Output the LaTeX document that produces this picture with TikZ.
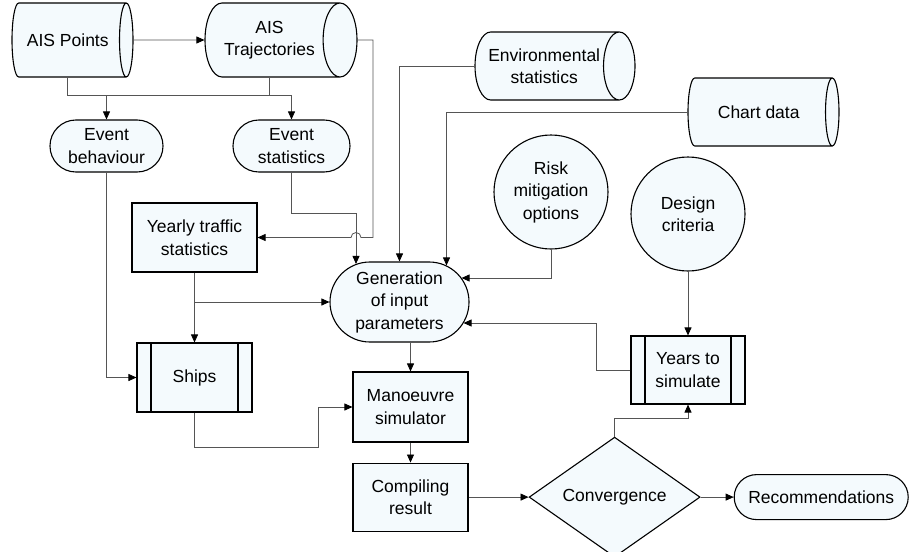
\documentclass[tikz,border=0pt]{standalone}
\usepackage{fontspec}
\setmainfont{Liberation Sans}
\usetikzlibrary{shapes.geometric, arrows.meta, positioning, calc}
\tikzset{>={Triangle[length=8pt,width=7pt]}}
\definecolor{boxfill}{RGB}{244,250,253}
\definecolor{linegray}{RGB}{85,85,85}

\begin{document}
\begin{tikzpicture}[
      x=1pt, y=-1pt,
      font=\fontsize{17.5}{22.5}\selectfont,
      base/.style={draw, fill=boxfill, line width=1.1pt, align=center, inner sep=2pt},
      datastore/.style={base, cylinder, aspect=0.8, minimum width=74pt, anchor=shape center},
      event/.style={base, rectangle, rounded corners=25.9pt, minimum width=113pt, minimum height=52pt},
      block/.style={base, rectangle, minimum width=115pt, minimum height=69pt},
      procbox/.style={block, path picture={
          \draw[line width=1.1pt] ([xshift=14pt]path picture bounding box.north west) -- ([xshift=14pt]path picture bounding box.south west);
          \draw[line width=1.1pt] ([xshift=-14pt]path picture bounding box.north east) -- ([xshift=-14pt]path picture bounding box.south east);}},
      round/.style={base, circle, minimum size=114pt},
      decision/.style={base, diamond, minimum width=171pt, minimum height=108pt, inner sep=0pt},
      arrow/.style={-{>[color=black]}, draw=linegray, line width=0.8pt},
      link/.style={draw=linegray, line width=0.8pt}
    ]
    \useasboundingbox (0,0) rectangle (909,551);

    % 1. AIS DATA
    \node[datastore, minimum height=121pt] (aispts) at (72.5,40) {AIS Points};
    \node[datastore, minimum height=152pt] (aistraj) at (281,40) {AIS\\Trajectories};
    \node[event] (evbehav) at (106.5,146) {Event\\behaviour};
    \node[event, minimum width=117pt] (evstats) at (291.5,146) {Event\\statistics};
    \node[block, minimum width=125pt] (yearly) at (194.5,237.5) {Yearly traffic\\statistics};

    % 2. OTHER INPUTS
    \node[datastore, minimum width=68pt, minimum height=160pt] (envstats) at (555,66) {Environmental\\statistics};
    \node[datastore, minimum width=68pt, minimum height=151pt] (chart) at (763.5,112) {Chart data};
    \node[round] (risk) at (551,192) {Risk\\mitigation\\options};
    \node[round] (design) at (688,214) {Design\\criteria};

    % 3. GENERATION
    \node[base, rectangle, rounded corners=39.9pt, minimum width=139pt, minimum height=80pt] (gen) at (399.5,302) {Generation\\of input\\parameters};
    \coordinate (genT1) at ($(gen.north)+(-43.5,2.5)$);
    \coordinate (genT3) at ($(gen.north)+(47,4)$);
    \coordinate (genR1) at ($(gen.east)+(-8,-24)$);
    \coordinate (genR2) at ($(gen.east)+(-6,21)$);

    % 4. SIMULATION
    \node[procbox] (ships) at (194.5,377.5) {Ships};
    \node[procbox, minimum width=114pt, minimum height=68pt] (years) at (688,370) {Years to\\simulate};
    \node[block, minimum height=70pt] (manoeuvre) at (410.5,407) {Manoeuvre\\simulator};
    \node[block, minimum height=68pt, below=20pt of manoeuvre] (compiling) {Compiling\\result};
    \node[decision, right=60pt of compiling] (conv) {Convergence};
    \node[event, rounded corners=22.4pt, minimum width=174pt, minimum height=45pt, right=33pt of conv] (recs) {Recommendations};

    %%% AIS FLOW
    \coordinate (aisjoin) at ($(aispts.south)+(0,18)$);
    \draw[arrow] (aispts.east) -- (aistraj.west);
    \draw[arrow] (aispts.south) -- (aisjoin) -| (evstats.north);
    \draw[arrow] (aisjoin -| evbehav.north) -- (evbehav.north);
    \draw[link] (aistraj.south) -- (aistraj.south |- aisjoin);
    \coordinate (hop) at (genT1 |- yearly.east);
    \coordinate (trajturn) at ($(hop)+(17,0)$);
    \draw[arrow] (aistraj.east) -| (trajturn) -- ($(hop)+(5,0)$) arc[start angle=0, end angle=180, radius=5pt] -- (yearly.east);

    %%% INPUTS TO GENERATION
    \draw[arrow] (evstats.south) -- ++(0,41) -| (genT1);
    \draw[arrow] (envstats.west) -| (gen.north);
    \draw[arrow] (chart.west) -| (genT3);
    \draw[arrow] (risk.south) |- (genR1);
    \draw[arrow] (years.west) -- ++(-34,0) |- (genR2);
    \draw[arrow] (yearly.south |- gen.west) -- (gen.west);

    %%% SHIPS AND SIMULATOR
    \draw[arrow] (yearly.south) -- (ships.north);
    \draw[arrow] (evbehav.south) |- (ships.west);
    \draw[arrow] (ships.south) -- ++(0,35) -| ($(manoeuvre.west)+(-34,0)$) -- (manoeuvre.west);
    \draw[arrow] (gen.south -| manoeuvre.north) -- (manoeuvre.north);
    \draw[arrow] (manoeuvre.south) -- (compiling.north);
    \draw[arrow] (compiling.east) -- (conv.west);
    \draw[arrow] (conv.east) -- (recs.west);
    \draw[arrow] (conv.north) -- ++(0,-18) -| (years.south);
    \draw[arrow] (design.south) -- (years.north);
\end{tikzpicture}
\end{document}
